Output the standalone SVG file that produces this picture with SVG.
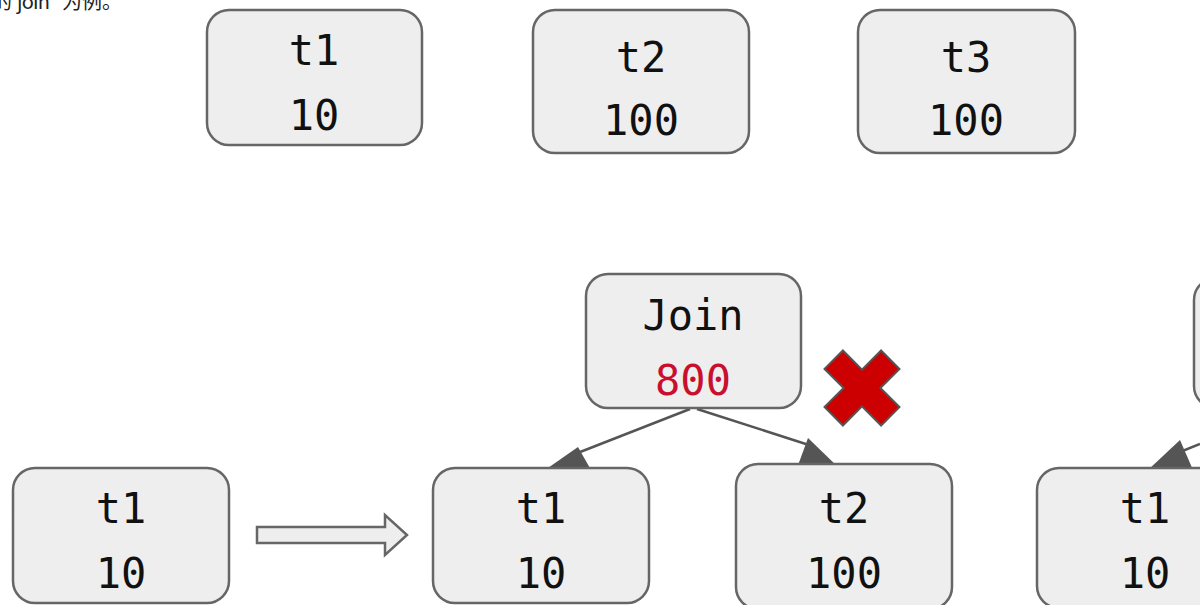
<svg xmlns="http://www.w3.org/2000/svg" width="1200" height="605" viewBox="0 0 1200 605">
<style>
.box{fill:#eeeeee;stroke:#666666;stroke-width:2.5}
.t{font-family:"DejaVu Sans Mono","Liberation Mono",monospace;font-size:42px;fill:#111;text-anchor:middle}
.red{fill:#c8102e}
.edge{stroke:#555;stroke-width:2.5;fill:none}
.head{fill:#555;stroke:none}
.cap{font-family:"Noto Sans CJK SC","Noto Sans",sans-serif;font-size:20px;fill:#222}
</style>
<text class="cap" y="9"><tspan x="-8">的</tspan><tspan x="17" textLength="33" lengthAdjust="spacing">join</tspan><tspan x="62">为例。</tspan></text>
<g id="connectors">
<line class="edge" x1="690" y1="409" x2="575" y2="454"/>
<polygon class="head" points="545,470 578,447 591,470"/>
<line class="edge" x1="697" y1="409" x2="812" y2="446"/>
<polygon class="head" points="797,468 808,438 839,468"/>
<line class="edge" x1="1200" y1="444" x2="1180" y2="452"/>
<polygon class="head" points="1148,470 1180,440 1193,470"/>
<path id="transform-arrow" d="M257,527 H385 V515 L407,535 L385,555 V543 H257 Z" fill="#eeeeee" stroke="#666" stroke-width="2.5"/>
</g>
<g id="top-t1"><rect class="box" x="207" y="10" width="215" height="135" rx="22"/><text class="t" x="314" y="65">t1</text><text class="t" x="314" y="130">10</text></g>
<g id="top-t2"><rect class="box" x="533" y="10" width="216" height="143" rx="22"/><text class="t" x="641" y="72">t2</text><text class="t" x="641" y="135">100</text></g>
<g id="top-t3"><rect class="box" x="858" y="10" width="217" height="143" rx="22"/><text class="t" x="966" y="72">t3</text><text class="t" x="966" y="135">100</text></g>
<g id="join"><rect class="box" x="586" y="274" width="215" height="134" rx="22"/><text class="t" x="693" y="330">Join</text><text class="t red" x="693" y="395">800</text></g>
<g id="cross" transform="translate(862,388) rotate(45)"><path d="M-13,-40 H13 V-13 H40 V13 H13 V40 H-13 V13 H-40 V-13 H-13 Z" fill="#cc0000" stroke="#555" stroke-width="2"/></g>
<g id="left-t1"><rect class="box" x="13" y="468" width="216" height="135" rx="22"/><text class="t" x="121" y="523">t1</text><text class="t" x="121" y="588">10</text></g>
<g id="mid-t1"><rect class="box" x="433" y="468" width="216" height="135" rx="22"/><text class="t" x="541" y="523">t1</text><text class="t" x="541" y="588">10</text></g>
<g id="mid-t2"><rect class="box" x="736" y="464" width="216" height="145" rx="22"/><text class="t" x="844" y="523">t2</text><text class="t" x="844" y="588">100</text></g>
<g id="right-join"><rect class="box" x="1194" y="278" width="215" height="130" rx="22"/></g>
<g id="right-t1"><rect class="box" x="1037" y="468" width="216" height="140" rx="22"/><text class="t" x="1145" y="523">t1</text><text class="t" x="1145" y="588">10</text></g>
</svg>
